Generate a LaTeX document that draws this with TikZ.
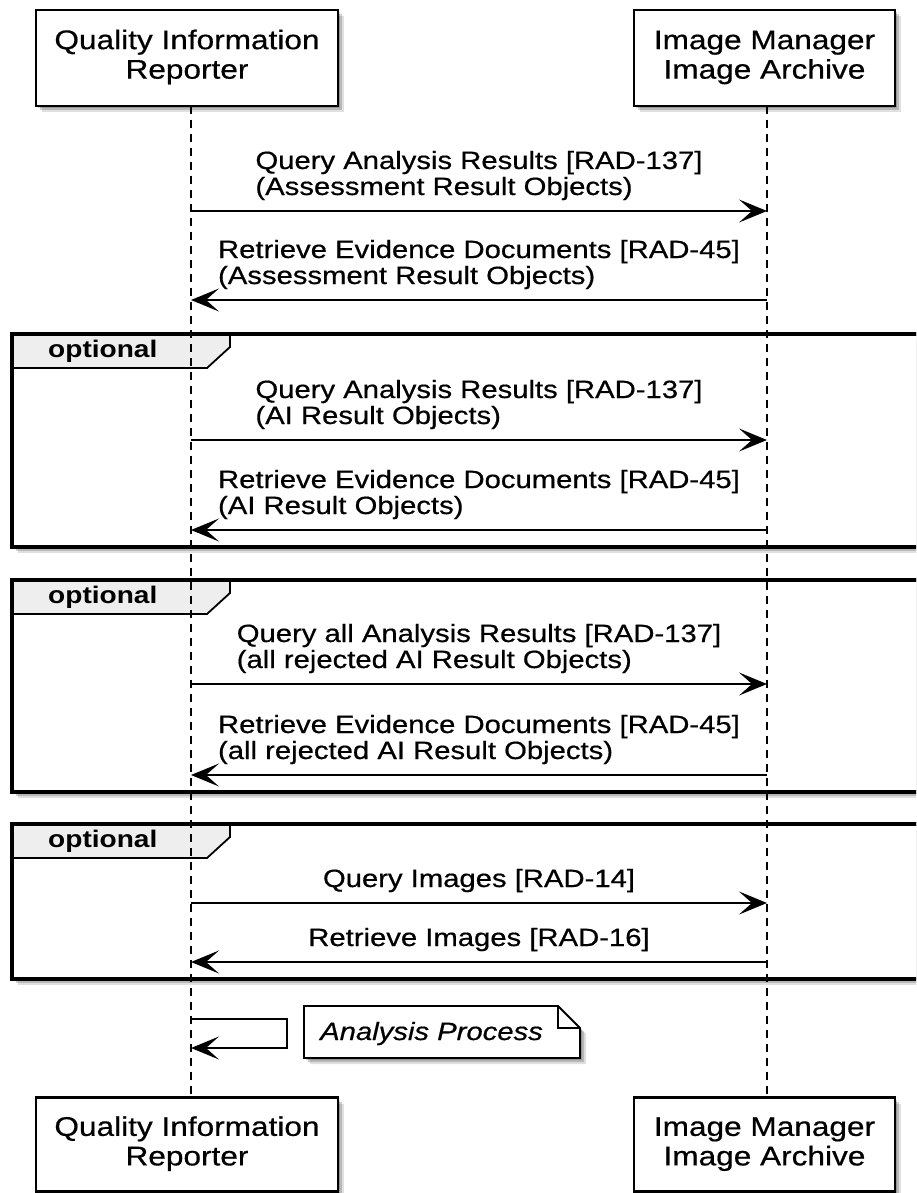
\documentclass[tikz,border=0pt]{standalone}
\usepackage{fontspec}
\setmainfont{Liberation Sans}[UprightFeatures={FakeBold=0.5},ItalicFeatures={FakeBold=0.5}]
\usepackage{graphicx}
\usetikzlibrary{arrows.meta,shadows}
\definecolor{tabgray}{HTML}{EEEEEE}
\newcommand{\hs}[1]{\scalebox{1.17}[1]{#1}}
\newcommand{\twol}[2]{\hs{\begin{tabular}{@{}l@{}}#1\\#2\end{tabular}}}
\newcommand{\twoc}[2]{\hs{\begin{tabular}{@{}c@{}}#1\\#2\end{tabular}}}
\newcommand{\onel}[1]{\hs{\begin{tabular}{@{}l@{}}#1\end{tabular}}}
\tikzset{
 shad/.style={drop shadow={shadow xshift=2pt,shadow yshift=-2pt,fill=black,opacity=.18},
              drop shadow={shadow xshift=4pt,shadow yshift=-4pt,fill=black,opacity=.18},
              drop shadow={shadow xshift=6pt,shadow yshift=-6pt,fill=black,opacity=.12}},
 part/.style={draw, line width=2.5pt, fill=white, shad, inner sep=0pt, font=\fontsize{27}{29.5}\selectfont},
 msgtext/.style={anchor=south, inner sep=0pt, font=\fontsize{25}{26}\selectfont},
 msg/.style={line width=1.8pt, -{Stealth[length=28pt,width=23pt,inset=13pt]}},
 life/.style={line width=1.8pt, dash pattern=on 8pt off 6pt},
 grpframe/.style={line width=3.5pt, fill=white, shad},
 tabfill/.style={fill=tabgray},
 tabline/.style={line width=1.8pt},
 grouplabel/.style={anchor=base west, inner sep=0pt, font=\fontsize{24}{26}\selectfont\bfseries},
 notebox/.style={line width=1.8pt, fill=white, shad, line join=miter},
 notetext/.style={anchor=base west, inner sep=0pt, font=\fontsize{25}{26}\selectfont\itshape},
}
\begin{document}
\begin{tikzpicture}[x=1pt,y=-1pt]
\useasboundingbox (0,0) rectangle (916,1193);
\clip (0,0) rectangle (916,1193);

% group frames
\foreach \t/\b in {334/547, 580/792, 824/979}{
  \draw[grpframe] (12,\t) rectangle (940,\b);
  \fill[tabfill] (12,\t) -- (230,\t) -- (230,\t+13) -- (207,\t+34) -- (12,\t+34) -- cycle;
  \draw[tabline] (230,\t) -- (230,\t+13) -- (207,\t+34) -- (12,\t+34);
  \draw[line width=3.5pt] (12,\b) -- (12,\t) -- (940,\t);
}
\node[grouplabel] (g1) at (48,357) {\hs{optional}};
\node[grouplabel] (g2) at (48,603) {\hs{optional}};
\node[grouplabel] (g3) at (48,847) {\hs{optional}};

% participants
\node[part, minimum width=302pt, minimum height=96pt] (qirT) at (187,58) {\twoc{Quality Information}{Reporter}};
\node[part, minimum width=261pt, minimum height=96pt] (imT) at (764.5,58) {\twoc{Image Manager}{Image Archive}};
\node[part, minimum width=302pt, minimum height=94pt] (qirB) at (187,1144.7) {\twoc{Quality Information}{Reporter}};
\node[part, minimum width=261pt, minimum height=94pt] (imB) at (764.5,1144.7) {\twoc{Image Manager}{Image Archive}};

% lifelines
\coordinate (lt) at (191,106);
\coordinate (lb) at (191,1097);
\coordinate (rt) at (767,106);
\coordinate (rb) at (767,1097);
\draw[life] (lt) -- (lb);
\draw[life] (rt) -- (rb);

% message endpoints
\foreach \n/\y in {1/211,2/300,3/440,4/530,5/684,6/775,7/903,8/962}{
  \coordinate (L\n) at (191,\y);
  \coordinate (R\n) at (767,\y);
}
\draw[msg] (L1) -- (R1);
\draw[msg] (R2) -- (L2);
\draw[msg] (L3) -- (R3);
\draw[msg] (R4) -- (L4);
\draw[msg] (L5) -- (R5);
\draw[msg] (R6) -- (L6);
\draw[msg] (L7) -- (R7);
\draw[msg] (R8) -- (L8);

\node[msgtext] (t1) at (479,211-8) {\twol{Query Analysis Results [RAD-137]}{(Assessment Result Objects)}};
\node[msgtext] (t2) at (479,300-8) {\twol{Retrieve Evidence Documents [RAD-45]}{(Assessment Result Objects)}};
\node[msgtext] (t3) at (479,440-8) {\twol{Query Analysis Results [RAD-137]}{(AI Result Objects)}};
\node[msgtext] (t4) at (479,530-8) {\twol{Retrieve Evidence Documents [RAD-45]}{(AI Result Objects)}};
\node[msgtext] (t5) at (479,684-8) {\twol{Query all Analysis Results [RAD-137]}{(all rejected AI Result Objects)}};
\node[msgtext] (t6) at (479,775-8) {\twol{Retrieve Evidence Documents [RAD-45]}{(all rejected AI Result Objects)}};
\node[msgtext] (t7) at (479,903-8) {\onel{Query Images [RAD-14]}};
\node[msgtext] (t8) at (479,962-8) {\onel{Retrieve Images [RAD-16]}};

% self message
\coordinate (s1) at (191,1019);
\coordinate (s1e) at (287,1019);
\coordinate (s2e) at (287,1048);
\coordinate (s2) at (191,1048);
\draw[msg] (s1) -- (s1e) -- (s2e) -- (s2);

% note
\draw[notebox] (304,1006) -- (558,1006) -- (580,1028) -- (580,1058) -- (304,1058) -- cycle;
\draw[line width=1.8pt] (558,1006) -- (558,1028) -- (580,1028);
\node[notetext] (nt) at (320,1040) {\hs{Analysis Process}};
\end{tikzpicture}
\end{document}
